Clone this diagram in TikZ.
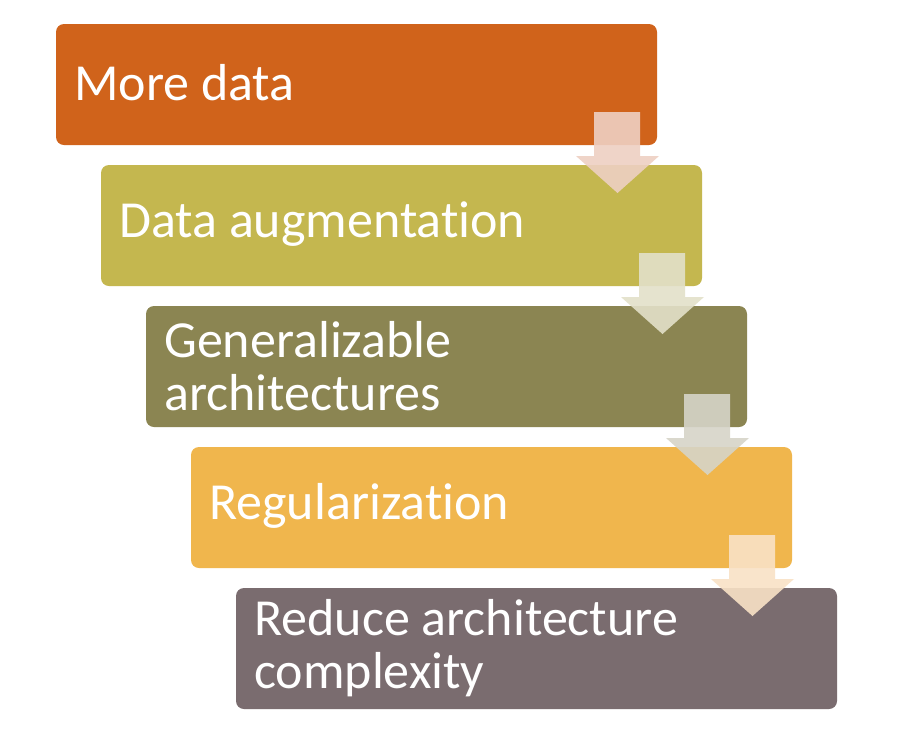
\documentclass[tikz,border=0pt]{standalone}
\usepackage{fontspec}
\setmainfont{Carlito}[Ligatures={NoCommon,NoContextual}]
\begin{document}
\begin{tikzpicture}[x=1pt,y=-1pt,
  stepbox/.style={rounded corners=8pt},
  steptext/.style={anchor=west,text=white,align=left,inner sep=0pt,
    font=\fontsize{52}{53}\selectfont},
  downarrow/.style={opacity=0.9}]
\definecolor{cA}{HTML}{D0631B}
\definecolor{cB}{HTML}{C4B74F}
\definecolor{cC}{HTML}{8B8552}
\definecolor{cD}{HTML}{F0B64D}
\definecolor{cE}{HTML}{7A6C6F}
\definecolor{aA}{HTML}{EED0C3}
\definecolor{aB}{HTML}{E3E1C9}
\definecolor{aC}{HTML}{D6D4C8}
\definecolor{aD}{HTML}{F9E2C6}
\useasboundingbox (0,0) rectangle (906,732);
\fill[white] (0,0) rectangle (906,732);
% step boxes, each shifted 45 right and 141 down
\foreach \k/\c in {0/cA,1/cB,2/cC,3/cD,4/cE}{
  \fill[stepbox,\c] (56+45*\k,24+141*\k) rectangle (657+45*\k,145+141*\k);
}
\node[steptext] (t1) at (74,83) {More data};
\node[steptext] (t2) at (119,224) {Data augmentat\kern0pt ion};
\node[steptext] (t3) at (164,366) {Generalizable\\architectures};
\node[steptext] (t4) at (209,506) {Regularizat\kern0pt ion};
\node[steptext] (t5) at (254,648) {Reduce architecture\\complexity};
% translucent down arrows between steps
\foreach \k/\c in {0/aA,1/aB,2/aC,3/aD}{
  \fill[downarrow,\c]
    (594+45*\k,112+141*\k) -- (640+45*\k,112+141*\k) -- (640+45*\k,156+141*\k)
    -- (659+45*\k,156+141*\k) -- (617.5+45*\k,193+141*\k) -- (576+45*\k,156+141*\k)
    -- (594+45*\k,156+141*\k) -- cycle;
}
\end{tikzpicture}
\end{document}
